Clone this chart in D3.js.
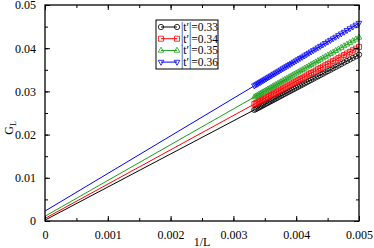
<!DOCTYPE html>
<html>
<head>
<meta charset="utf-8">
<script src="https://cdn.jsdelivr.net/npm/d3@7"></script>
<style>
  html, body { margin: 0; padding: 0; background: #fff; }
  svg { display: block; font-family: "Liberation Serif", "DejaVu Serif", serif; }
</style>
</head>
<body>
<svg id="chart" width="374" height="248"></svg>
<script>
// system sizes L, plotted as 1/L
const sizes = [200,202,204,206,208,210,212,214,216,218,220,222,224,226,228,230,232,234,236,238,240,
  242,244,246,248,250,252,254,256,258,260,262,264,266,268,270,272,274,276,278,280,
  282,284,286,288,290,292,294,296,298,300]

const g033 = [0.0385,0.03812,0.03775,0.03739,0.03703,0.03668,0.03633,0.03599,0.03566,0.03534,0.03502,
  0.03470,0.03440,0.03409,0.03380,0.03350,0.03322,0.03294,0.03266,0.03239,0.03212,
  0.03185,0.03159,0.03134,0.03109,0.03084,0.03060,0.03036,0.03012,0.02989,0.02966,
  0.02944,0.02922,0.02900,0.02878,0.02857,0.02836,0.02816,0.02795,0.02775,0.02756,
  0.02736,0.02717,0.02698,0.02680,0.02661,0.02643,0.02626,0.02608,0.02591,0.02573]
const g034 = [0.0403,0.03991,0.03952,0.03915,0.03878,0.03841,0.03805,0.03770,0.03736,0.03702,0.03669,
  0.03636,0.03605,0.03573,0.03543,0.03512,0.03483,0.03454,0.03425,0.03397,0.03369,
  0.03341,0.03314,0.03288,0.03262,0.03236,0.03211,0.03186,0.03161,0.03138,0.03114,
  0.03091,0.03068,0.03045,0.03022,0.03001,0.02979,0.02958,0.02936,0.02916,0.02896,
  0.02875,0.02856,0.02836,0.02817,0.02798,0.02779,0.02761,0.02743,0.02725,0.02706]
const g035 = [0.0425,0.04209,0.04169,0.04130,0.04091,0.04053,0.04015,0.03979,0.03943,0.03908,0.03874,
  0.03839,0.03807,0.03773,0.03742,0.03710,0.03679,0.03649,0.03619,0.03590,0.03560,
  0.03531,0.03503,0.03476,0.03449,0.03422,0.03396,0.03370,0.03344,0.03319,0.03295,
  0.03271,0.03247,0.03223,0.03199,0.03177,0.03154,0.03132,0.03110,0.03088,0.03067,
  0.03046,0.03025,0.03005,0.02985,0.02965,0.02945,0.02927,0.02907,0.02889,0.02870]
const g036 = [0.0458,0.04537,0.04495,0.04454,0.04413,0.04373,0.04334,0.04295,0.04258,0.04221,0.04185,
  0.04149,0.04114,0.04079,0.04046,0.04012,0.03980,0.03948,0.03917,0.03886,0.03855,
  0.03825,0.03795,0.03767,0.03738,0.03710,0.03683,0.03655,0.03628,0.03602,0.03576,
  0.03551,0.03526,0.03501,0.03476,0.03452,0.03428,0.03406,0.03382,0.03359,0.03337,
  0.03315,0.03293,0.03272,0.03251,0.03230,0.03209,0.03190,0.03169,0.03150,0.03130]

// extrapolation lines, 1/L = 0 .. 1/300
const fitX = [0, 1 / 300]
const fit033 = [0.0002, 0.02573]
const fit034 = [0.0006, 0.02706]
const fit035 = [0.0011, 0.0287]
const fit036 = [0.0023, 0.0313]

const labels = ["0.33", "0.34", "0.35", "0.36"]
const xTicks = [0, 0.001, 0.002, 0.003, 0.004, 0.005]
const yTicks = [0, 0.01, 0.02, 0.03, 0.04, 0.05]

const series = [
  {label: labels[0], g: g033, fit: fit033, color: "#000000", sym: d3.symbolCircle},
  {label: labels[1], g: g034, fit: fit034, color: "#ff0000", sym: d3.symbolSquare},
  {label: labels[2], g: g035, fit: fit035, color: "#1a9e1a", sym: "up"},
  {label: labels[3], g: g036, fit: fit036, color: "#0000ff", sym: "down"},
]

const m = {left: 45, top: 5, right: 359, bottom: 221}
const svg = d3.select("#chart")

const x = d3.scaleLinear().domain([0, 0.005]).range([m.left, m.right])
const y = d3.scaleLinear().domain([0, 0.05]).range([m.bottom, m.top])

const marker = (s) => {
  if (s === "up") return "M0,-3.2L2.8,1.8L-2.8,1.8Z"
  if (s === "down") return "M0,3.2L2.8,-1.8L-2.8,-1.8Z"
  if (s === d3.symbolSquare) return "M-2.5,-2.5H2.5V2.5H-2.5Z"
  return d3.symbol(s, 22)()
}

const line = d3.line().x(d => x(d[0])).y(d => y(d[1]))

const plot = svg.append("g")
series.forEach(s => {
  plot.append("path")
    .attr("d", line(fitX.map((v, i) => [v, s.fit[i]])))
    .attr("fill", "none").attr("stroke", s.color).attr("stroke-width", 1)
  const pts = sizes.map((L, i) => [1 / L, s.g[i]])
  plot.append("path")
    .attr("d", line(pts))
    .attr("fill", "none").attr("stroke", s.color).attr("stroke-width", 1)
  plot.selectAll(null).data(pts).join("path")
    .attr("transform", d => `translate(${x(d[0])},${y(d[1])})`)
    .attr("d", marker(s.sym))
    .attr("fill", "none").attr("stroke", s.color).attr("stroke-width", 0.8)
})

// axes: ticks inward on all four sides
const minorX = d3.range(0, 0.0051, 0.0005)
const minorY = d3.range(0, 0.051, 0.005)
const ax = svg.append("g")

ax.append("g").attr("transform", `translate(0,${m.bottom})`)
  .call(d3.axisBottom(x).tickValues(minorX).tickSize(-3).tickFormat(""))
ax.append("g").attr("transform", `translate(0,${m.bottom})`)
  .call(d3.axisBottom(x).tickValues(xTicks).tickSize(-5).tickPadding(9)
    .tickFormat(d => d === 0 ? "0" : d3.format(".3f")(d)))
ax.append("g").attr("transform", `translate(0,${m.top})`)
  .call(d3.axisTop(x).tickValues(minorX).tickSize(-3).tickFormat(""))
ax.append("g").attr("transform", `translate(0,${m.top})`)
  .call(d3.axisTop(x).tickValues(xTicks).tickSize(-5).tickFormat(""))

ax.append("g").attr("transform", `translate(${m.left},0)`)
  .call(d3.axisLeft(y).tickValues(minorY).tickSize(-3).tickFormat(""))
ax.append("g").attr("transform", `translate(${m.left},0)`)
  .call(d3.axisLeft(y).tickValues(yTicks).tickSize(-5).tickPadding(9)
    .tickFormat(d => d === 0 ? "0" : d3.format(".2f")(d)))
ax.append("g").attr("transform", `translate(${m.right},0)`)
  .call(d3.axisRight(y).tickValues(minorY).tickSize(-3).tickFormat(""))
ax.append("g").attr("transform", `translate(${m.right},0)`)
  .call(d3.axisRight(y).tickValues(yTicks).tickSize(-5).tickFormat(""))

ax.selectAll(".domain").remove()
ax.selectAll(".tick line").attr("stroke", "#000").attr("stroke-width", 1)
ax.selectAll(".tick text")
  .attr("fill", "#000")
  .style("font-family", "'Liberation Serif', serif")
  .style("font-size", "12px")

svg.append("rect")
  .attr("x", m.left).attr("y", m.top)
  .attr("width", m.right - m.left).attr("height", m.bottom - m.top)
  .attr("fill", "none").attr("stroke", "#000").attr("stroke-width", 1.3)

// axis titles
svg.append("text")
  .attr("x", (m.left + m.right) / 2).attr("y", 246)
  .attr("text-anchor", "middle").attr("font-size", 12)
  .text("1/L")

const gl = svg.append("text")
  .attr("transform", "translate(13,128) rotate(-90)")
  .attr("text-anchor", "middle").attr("font-size", 12)
gl.append("tspan").text("G")
gl.append("tspan").attr("font-size", 8).attr("dy", 3).text("L")

// legend
const leg = svg.append("g").attr("transform", "translate(156,20)")
leg.append("rect")
  .attr("width", 62).attr("height", 49)
  .attr("fill", "#fff").attr("stroke", "#000").attr("stroke-width", 1)
series.forEach((s, i) => {
  const row = leg.append("g").attr("transform", `translate(0,${7 + i * 11.7})`)
  row.append("line").attr("x1", 5).attr("x2", 21).attr("y1", 0).attr("y2", 0)
    .attr("stroke", s.color).attr("stroke-width", 1)
  ;[5, 21].forEach(px => row.append("path")
    .attr("transform", `translate(${px},0)`)
    .attr("d", marker(s.sym))
    .attr("fill", "none").attr("stroke", s.color).attr("stroke-width", 0.8))
  row.append("text").attr("x", 25).attr("y", 4)
    .attr("font-size", 11.5)
    .text(`|t′|=${s.label}`)
})
</script>
</body>
</html>
